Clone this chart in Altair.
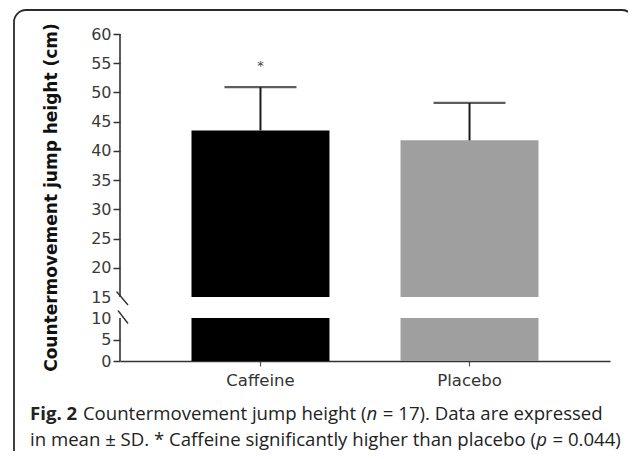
import altair as alt
import pandas as pd

# ---- data ----
categories = ["Caffeine", "Placebo"]
means = [43.5, 41.8]
sds = [7.4, 6.4]
sig = ["*", ""]
bar_colors = ["#000000", "#9f9f9f"]
y_ticks = [0, 5, 10, 15, 20, 25, 30, 35, 40, 45, 50, 55, 60]
break_low = 10
break_high = 15
y_title = "Countermovement jump height (cm)"

cap_line1 = [("Fig. 2", "bold", "normal"),
             (" Countermovement jump height (", "normal", "normal"),
             ("n", "normal", "italic"),
             (" = 17). Data are expressed", "normal", "normal")]
cap_line2 = [("in mean ± SD. * Caffeine significantly higher than placebo (", "normal", "normal"),
             ("p", "normal", "italic"),
             (" = 0.044)", "normal", "normal")]

# ---- layout (pixels, relative to the plot origin) ----
W, H = 490, 327
Y_RANGE = [327, 284, 263, 0]
CAP_FS = 18.6
CAP_X0 = -90
CAP_Y = [386, 412]

reg = {' ': .260, '(': .278, ')': .278, '*': .537, '.': .266, '=': .572, '±': .572,
       '0': .572, '1': .572, '2': .572, '4': .572, '7': .572, 'C': .633, 'D': .729,
       'S': .549, 'a': .556, 'b': .613, 'c': .476, 'd': .613, 'e': .561, 'f': .339,
       'g': .548, 'h': .614, 'i': .253, 'j': .253, 'l': .253, 'm': .930, 'n': .614,
       'o': .604, 'p': .613, 'r': .408, 's': .477, 't': .353, 'u': .614, 'v': .501,
       'x': .505, 'y': .502}
bold = {'F': .586, 'i': .300, 'g': .560, '.': .305, ' ': .260, '2': .572}


def seg_width(s, weight):
    tab = bold if weight == "bold" else reg
    return sum(tab.get(ch, .55) for ch in s) * CAP_FS


def caption_layers(segs, y):
    layers = []
    x = CAP_X0
    for s, w, st in segs:
        lead = len(s) - len(s.lstrip(" "))
        x_draw = x + lead * reg[' '] * CAP_FS
        layers.append(
            alt.Chart(pd.DataFrame({"k": [0]})).mark_text(
                text=s.strip(" "), font="Open Sans", fontSize=CAP_FS, color="#222",
                align="left", baseline="alphabetic", fontWeight=w, fontStyle=st).encode(
                x=alt.value(x_draw), y=alt.value(y)))
        x += seg_width(s, w)
    return layers


df = pd.DataFrame({"group": categories, "mean": means, "sd": sds, "sig": sig})
df["hi"] = df["mean"] + df["sd"]
df["star"] = df["hi"] + 3.7

seg_rows = []
for c, m in zip(categories, means):
    seg_rows.append({"group": c, "lo": 0, "top": break_low})
    seg_rows.append({"group": c, "lo": break_high, "top": m})
seg_df = pd.DataFrame(seg_rows)

yscale = alt.Scale(domain=[0, break_low, break_high, 60], range=Y_RANGE, zero=False, nice=False)
xscale = alt.Scale(domain=categories, paddingInner=0.34, paddingOuter=0.342)

yaxis = alt.Axis(values=y_ticks, domain=False, grid=False, labelFont="DejaVu Sans",
                 labelFontSize=16, labelColor="#3a3a3a", labelPadding=2, tickSize=7,
                 tickColor="#333", tickWidth=1.5, labelOverlap=False, labelFlush=False,
                 title=None,
                 tickOpacity={"condition": {"test": "datum.value == 10 || datum.value == 15",
                                            "value": 0}, "value": 1})
xaxis = alt.Axis(labelAngle=0, labelFont="DejaVu Sans", labelFontSize=16.5,
                 labelColor="#333", labelPadding=6, tickSize=5, tickColor="#555",
                 tickWidth=1.2, domainColor="#333", domainWidth=1.6, title=None)


def Y(f):
    return alt.Y(f, scale=yscale, axis=yaxis)


def X():
    return alt.X("group:N", scale=xscale, sort=categories, axis=xaxis)


bars = alt.Chart(seg_df).mark_bar().encode(
    x=X(), y=Y("lo:Q"), y2="top:Q",
    color=alt.Color("group:N", scale=alt.Scale(domain=categories, range=bar_colors), legend=None),
)

err = alt.Chart(df).mark_rule(strokeWidth=2, color="#1a1a1a").encode(
    x=X(), y=Y("mean:Q"), y2="hi:Q")
caps = alt.Chart(df).mark_tick(thickness=2.2, size=72, color="#1a1a1a").encode(
    x=X(), y=Y("hi:Q"))
star = alt.Chart(df).mark_text(fontSize=13, font="DejaVu Sans", color="#444", baseline="middle").encode(
    x=X(), y=Y("star:Q"), text="sig:N")

axis_df = pd.DataFrame({"a": [0, break_high], "b": [break_low, 60]})
axis_line = alt.Chart(axis_df).mark_rule(color="#333", strokeWidth=1.6).encode(
    x=alt.value(0), y=Y("a:Q"), y2="b:Q")
brk1 = alt.Chart(pd.DataFrame({"v": [break_high]})).mark_rule(
    color="#333", strokeWidth=1.4, xOffset=-3.5, x2Offset=8, yOffset=-5.5, y2Offset=8).encode(
    x=alt.value(0), x2=alt.value(0), y=Y("v:Q"), y2="v:Q")
brk2 = alt.Chart(pd.DataFrame({"v": [break_low]})).mark_rule(
    color="#333", strokeWidth=1.4, xOffset=-2, x2Offset=8, yOffset=-7.5, y2Offset=5.5).encode(
    x=alt.value(0), x2=alt.value(0), y=Y("v:Q"), y2="v:Q")

ytitle = alt.Chart(pd.DataFrame({"t": [y_title]})).mark_text(
    angle=270, font="DejaVu Sans", fontSize=17, fontWeight="bold", color="#111",
    align="center", baseline="alphabetic").encode(
    text="t:N", x=alt.value(-63), y=alt.value(163.5))

box = alt.Chart(pd.DataFrame({"k": [0]})).mark_rect(
    fillOpacity=0, stroke="#2a2a2a", strokeWidth=1.8, cornerRadius=12).encode(
    x=alt.value(-106), x2=alt.value(514), y=alt.value(-24), y2=alt.value(440))

layers = [bars, err, caps, star, axis_line, brk1, brk2, ytitle]
layers += caption_layers(cap_line1, CAP_Y[0]) + caption_layers(cap_line2, CAP_Y[1])
layers.append(box)

chart = alt.layer(*layers).properties(
    width=W, height=H,
    autosize=alt.AutoSizeParams(type="none"),
    padding={"left": 112, "top": 26, "right": 18, "bottom": 90},
).configure_view(strokeWidth=0)

chart.save("out.html", embed_options={"renderer": "svg", "actions": False})
